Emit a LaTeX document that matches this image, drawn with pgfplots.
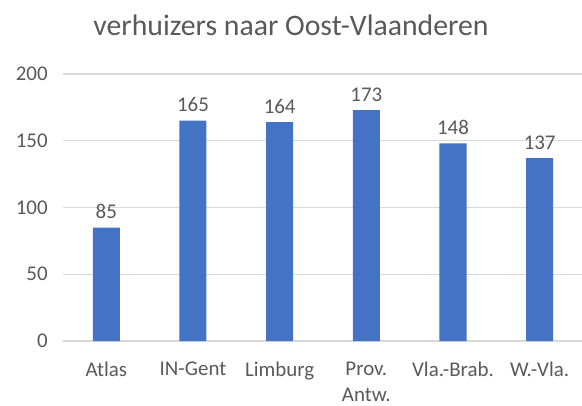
\documentclass[border=0pt]{standalone}
\usepackage{pgfplots}
\pgfplotsset{compat=1.18}
\usepackage{fontspec}
\setmainfont{Carlito}
\definecolor{barblue}{HTML}{4472C4}
\definecolor{txtgray}{HTML}{595959}
\definecolor{gridgray}{HTML}{D9D9D9}
\begin{document}
\begin{tikzpicture}[x=0.75pt,y=0.75pt]
\useasboundingbox (0,0) rectangle (582,405);
\node[font=\fontsize{22.3}{26}\selectfont, text=txtgray] at (291,380) {verhuizers naar Oost-Vlaanderen};
\begin{axis}[
  at={(63*0.75pt,64*0.75pt)}, anchor=south west,
  scale only axis,
  width=520*0.75pt, height=267*0.75pt,
  xmin=-0.5, xmax=5.5, ymin=0, ymax=200,
  ytick={0,50,100,150,200},
  xtick={0,1,2,3,4,5},
  xticklabels={Atlas,IN-Gent,Limburg,{Prov.\\Antw.},Vla.-Brab.,W.-Vla.},
  xticklabel style={align=center, text=txtgray, font=\fontsize{15.7}{19.5}\selectfont, yshift=-12pt},
  yticklabel style={text=txtgray, font=\fontsize{15.7}{16}\selectfont, xshift=-8pt},
  /pgf/number format/assume math mode=true,
  axis x line*=bottom,
  axis y line*=left,
  x axis line style={draw=gridgray, line width=0.8pt, -},
  y axis line style={draw=none},
  ymajorgrids, grid style={gridgray, line width=0.8pt},
  major tick length=0pt,
  ybar, bar width=27*0.75pt,
  nodes near coords,
  every node near coord/.append style={text=txtgray, font=\fontsize{15.7}{16}\selectfont, yshift=3pt},
  clip=false,
]
\addplot[fill=barblue, draw=none] coordinates {(0,85) (1,165) (2,164) (3,173) (4,148) (5,137)};
\end{axis}
\end{tikzpicture}
\end{document}
